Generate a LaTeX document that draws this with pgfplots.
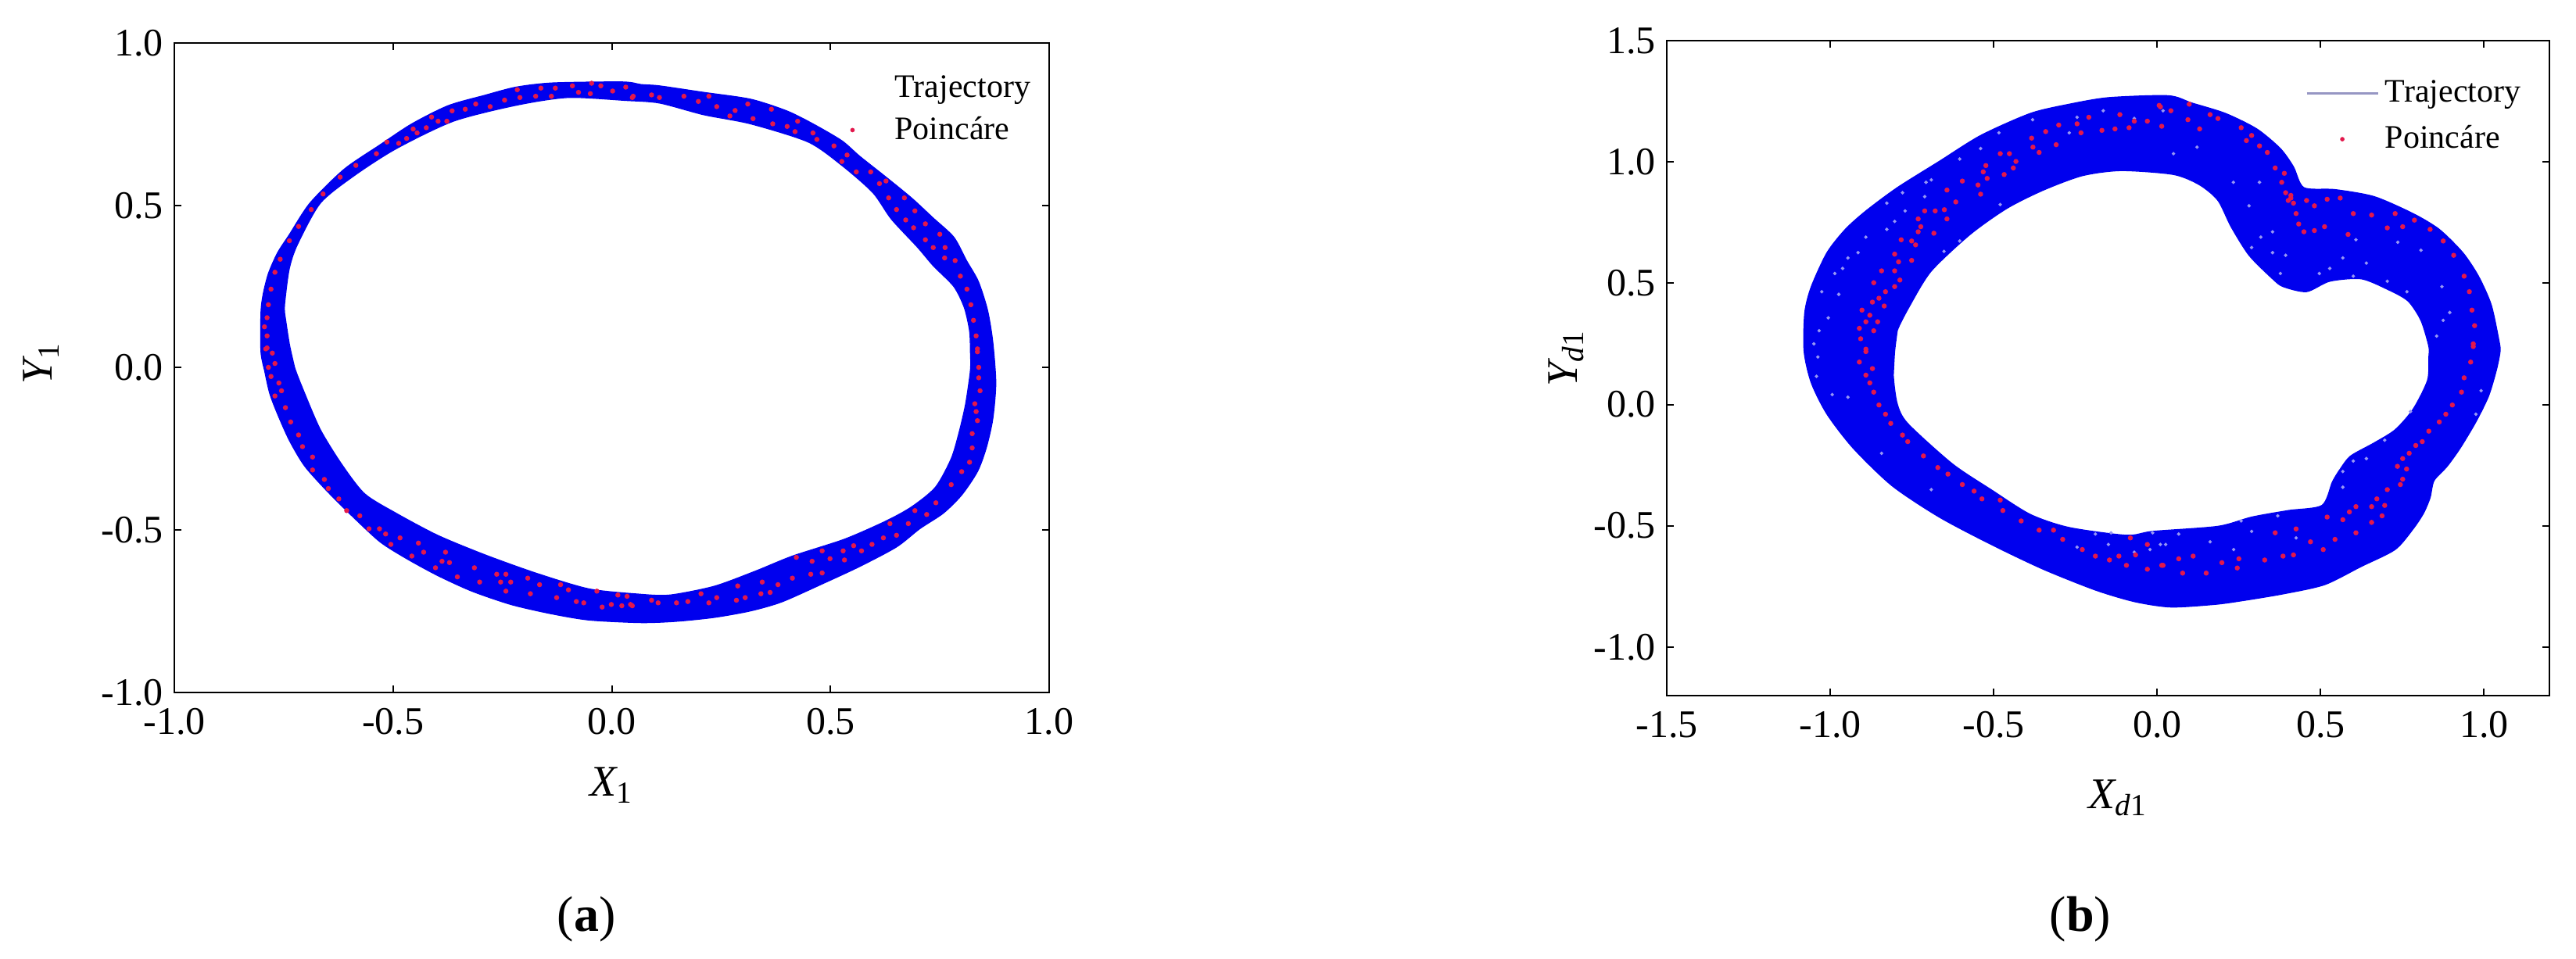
\documentclass[border=0pt]{standalone}
\usepackage{pgfplots}
\pgfplotsset{compat=1.18}
\usepackage{fontspec}
\setmainfont{Liberation Serif}
\definecolor{bandblue}{RGB}{0,0,238}
\definecolor{ptred}{RGB}{226,24,76}
\definecolor{gapblue}{RGB}{150,150,245}
\definecolor{lineblue}{RGB}{150,150,195}
\pgfplotsset{
  panel/.style={
    scale only axis, axis line style={line width=0.5pt}, tick style={black,line width=0.5pt},
    major tick length=2.2pt, tick align=inside, xtick pos=both, ytick pos=both,
    minor tick num=0, tick label style={font=\fontsize{12.5}{13}\selectfont},
    /pgf/number format/assume math mode=true,
    /pgf/number format/fixed, /pgf/number format/fixed zerofill, /pgf/number format/precision=1,
    label style={font=\fontsize{14}{15}\selectfont},
    xticklabel style={yshift=-1.5pt},
    legend cell align=left,
    legend image code/.code={\draw[mark repeat=2,mark phase=2,##1] plot coordinates {(0pt,0pt)(11.4pt,0pt)(22.75pt,0pt)};},
    legend style={draw=none, fill=none, inner sep=0pt, anchor=north west,
      font=\fontsize{10.5}{11}\selectfont, row sep=0.5pt},
  },
  band/.style={forget plot, fill=bandblue, draw=bandblue, line width=0.3pt, smooth, tension=0.45, line join=round},
  hole/.style={forget plot, fill=white, draw=bandblue, line width=0.3pt, smooth, tension=0.45, line join=round},
  pts/.style={forget plot, only marks, mark=*, mark size=0.6pt, color=ptred},
  gaps/.style={forget plot, only marks, mark=*, mark size=0.32pt, color=gapblue},
}
\begin{document}
\begin{tikzpicture}
\path[use as bounding box] (0,0) rectangle (823.75pt,306.75pt);
\begin{axis}[panel, at={(55.75pt,85.25pt)}, anchor=south west, width=279.75pt, height=207.75pt,
  xmin=-1, xmax=1, ymin=-1, ymax=1,
  xtick={-1,-0.5,0,0.5,1}, ytick={-1,-0.5,0,0.5,1},
  xlabel={{\itshape X}\textsubscript{1}}, ylabel={{\itshape Y}\textsubscript{1}},
  xlabel style={at={(axis description cs:0.5,-0.143)},anchor=center},
  ylabel style={at={(axis description cs:-0.152,0.507)},anchor=center},
  legend style={at={(axis description cs:0.733,0.96)}}]
\addlegendimage{color=white}
\addlegendentry{Trajectory}
\addlegendimage{only marks, mark=*, mark size=0.5pt, color=ptred}
\addlegendentry{Poincáre}
\addplot[band] coordinates {
(-0.794,-0.007)(-0.802,0.049)(-0.802,0.170)(-0.797,0.226)(-0.785,0.290)(-0.764,0.354)(-0.737,0.410)(-0.690,0.507)(-0.612,0.611)(-0.529,0.687)(-0.457,0.751)(-0.374,0.807)(-0.290,0.839)(-0.219,0.864)(-0.135,0.877)(0.025,0.880)(0.067,0.872)
(0.109,0.868)(0.210,0.848)(0.317,0.827)(0.400,0.791)(0.460,0.751)(0.526,0.699)(0.567,0.651)(0.627,0.587)(0.686,0.522)(0.734,0.462)(0.782,0.402)(0.811,0.330)(0.838,0.266)(0.859,0.178)(0.871,0.081)
(0.878,-0.047)(0.871,-0.159)(0.856,-0.248)(0.836,-0.320)(0.800,-0.392)(0.758,-0.448)(0.704,-0.496)(0.651,-0.552)(0.567,-0.612)(0.484,-0.664)(0.389,-0.721)(0.317,-0.749)(0.234,-0.769)(0.147,-0.781)
(0.067,-0.785)(-0.052,-0.777)(-0.141,-0.757)(-0.231,-0.729)(-0.320,-0.688)(-0.398,-0.640)(-0.469,-0.588)(-0.529,-0.537)(-0.588,-0.464)(-0.648,-0.384)(-0.702,-0.303)(-0.737,-0.224)(-0.764,-0.143)(-0.782,-0.079)(-0.794,-0.007)(-0.802,0.049)(-0.802,0.170)
};
\addplot[hole] coordinates {
(-0.725,0.001)(-0.737,0.073)(-0.748,0.170)(-0.746,0.219)(-0.737,0.306)(-0.719,0.378)(-0.666,0.507)(-0.587,0.593)(-0.492,0.675)(-0.362,0.759)(-0.219,0.808)(-0.100,0.832)(0.031,0.823)
(0.109,0.815)(0.210,0.779)(0.317,0.751)(0.449,0.695)(0.526,0.623)(0.597,0.539)(0.639,0.458)(0.699,0.371)(0.735,0.314)(0.782,0.250)(0.806,0.185)(0.818,0.113)(0.820,0.049)
(0.820,-0.007)(0.809,-0.111)(0.794,-0.199)(0.776,-0.280)(0.740,-0.368)(0.686,-0.428)(0.627,-0.472)(0.532,-0.528)(0.413,-0.580)(0.329,-0.626)(0.234,-0.673)(0.132,-0.700)(0.061,-0.697)
(-0.052,-0.681)(-0.172,-0.633)(-0.290,-0.576)(-0.398,-0.516)(-0.493,-0.448)(-0.565,-0.388)(-0.618,-0.296)(-0.666,-0.191)(-0.702,-0.079)(-0.725,0.001)(-0.737,0.073)(-0.748,0.170)
};
\addplot[pts] coordinates {
(-0.791,0.058)(-0.788,0.098)(-0.794,0.126)(-0.788,0.154)(-0.785,0.194)(-0.779,0.242)(-0.770,0.294)(-0.758,0.334)(-0.737,0.391)(-0.716,0.435)(-0.687,0.487)(-0.660,0.535)(-0.621,0.587)(-0.585,0.623)(-0.538,0.659)(-0.514,0.695)(-0.487,0.691)(-0.469,0.706)(-0.454,0.735)(-0.445,0.723)(-0.424,0.739)(-0.397,0.759)(-0.412,0.772)(-0.377,0.759)(-0.365,0.791)(-0.335,0.796)(-0.311,0.812)(-0.278,0.804)(-0.245,0.824)(-0.210,0.832)(-0.216,0.856)(-0.174,0.836)(-0.162,0.861)(-0.138,0.836)(-0.129,0.861)(-0.090,0.868)(-0.076,0.848)(-0.049,0.844)(-0.025,0.868)(-0.046,0.876)(0.002,0.852)(0.032,0.864)(0.047,0.832)
(0.049,0.836)(0.109,0.832)(0.091,0.840)(0.165,0.836)(0.222,0.836)(0.198,0.820)(0.240,0.804)(0.270,0.775)(0.311,0.812)(0.323,0.767)(0.282,0.792)(0.365,0.796)(0.368,0.751)(0.401,0.743)(0.425,0.759)(0.419,0.727)(0.460,0.723)(0.469,0.703)(0.508,0.683)(0.538,0.655)(0.526,0.635)(0.559,0.603)(0.592,0.603)(0.612,0.567)(0.627,0.575)(0.633,0.523)(0.669,0.523)(0.651,0.487)(0.693,0.483)(0.672,0.455)(0.690,0.431)(0.717,0.443)(0.750,0.411)(0.717,0.394)(0.762,0.370)(0.735,0.370)(0.785,0.330)(0.761,0.338)(0.797,0.282)(0.812,0.242)(0.821,0.194)(0.827,0.146)(0.833,0.098)(0.836,0.058)
(-0.788,0.061)(-0.776,0.045)(-0.770,0.013)(-0.785,0.001)(-0.779,-0.027)(-0.761,-0.047)(-0.755,-0.071)(-0.770,-0.087)(-0.746,-0.123)(-0.734,-0.167)(-0.716,-0.207)(-0.707,-0.243)(-0.684,-0.275)(-0.684,-0.315)(-0.657,-0.344)(-0.648,-0.372)(-0.624,-0.404)(-0.606,-0.440)(-0.576,-0.456)(-0.555,-0.496)(-0.531,-0.496)(-0.517,-0.512)(-0.484,-0.524)(-0.505,-0.544)(-0.442,-0.540)(-0.430,-0.568)(-0.457,-0.580)(-0.380,-0.568)(-0.388,-0.596)(-0.371,-0.600)(-0.403,-0.616)(-0.353,-0.644)(-0.314,-0.616)(-0.302,-0.660)(-0.263,-0.636)(-0.242,-0.636)(-0.254,-0.660)(-0.231,-0.660)(-0.242,-0.688)(-0.192,-0.648)(-0.165,-0.668)(-0.186,-0.696)(-0.117,-0.668)(-0.099,-0.684)(-0.126,-0.708)(-0.081,-0.720)(-0.064,-0.724)(-0.034,-0.688)(-0.022,-0.737)(-0.001,-0.729)(0.014,-0.700)(0.035,-0.704)(0.023,-0.733)(0.047,-0.733)
(0.043,-0.729)(0.091,-0.716)(0.106,-0.724)(0.148,-0.724)(0.174,-0.720)(0.204,-0.696)(0.222,-0.724)(0.240,-0.708)(0.288,-0.672)(0.285,-0.716)(0.305,-0.708)(0.344,-0.660)(0.341,-0.696)(0.362,-0.692)(0.380,-0.668)(0.413,-0.648)(0.455,-0.636)(0.481,-0.632)(0.422,-0.584)(0.458,-0.596)(0.481,-0.564)(0.499,-0.588)(0.532,-0.592)(0.529,-0.564)(0.553,-0.548)(0.571,-0.564)(0.595,-0.544)(0.621,-0.524)(0.651,-0.516)(0.636,-0.480)(0.678,-0.480)(0.693,-0.440)(0.720,-0.452)(0.741,-0.416)(0.776,-0.360)(0.800,-0.320)(0.818,-0.291)(0.824,-0.247)(0.824,-0.203)(0.836,-0.163)(0.833,-0.135)(0.830,-0.111)(0.842,-0.071)(0.839,-0.031)(0.839,0.001)(0.836,0.049)
};
\end{axis}
\begin{axis}[panel, at={(533pt,84.25pt)}, anchor=south west, width=282.25pt, height=209.5pt,
  xmin=-1.5, xmax=1.2, ymin=-1.2, ymax=1.5,
  xtick={-1.5,-1,-0.5,0,0.5,1}, ytick={-1,-0.5,0,0.5,1,1.5},
  xlabel={{\itshape X}\textsubscript{{\itshape d}1}}, ylabel={{\itshape Y}\textsubscript{{\itshape d}1}},
  xlabel style={at={(axis description cs:0.511,-0.156)},anchor=center},
  ylabel style={at={(axis description cs:-0.114,0.515)},anchor=center},
  legend style={at={(axis description cs:0.723,0.95)}, row sep=2pt}]
\addlegendimage{color=lineblue, line width=0.7pt}
\addlegendentry{Trajectory}
\addlegendimage{only marks, mark=*, mark size=0.5pt, color=ptred}
\addlegendentry{Poincáre}
\addplot[band] coordinates {
(-1.058,0.089)(-1.080,0.218)(-1.078,0.379)(-1.058,0.486)(-1.010,0.626)(-0.954,0.722)(-0.891,0.798)(-0.795,0.894)(-0.667,1.002)(-0.540,1.109)(-0.388,1.200)(-0.269,1.238)(-0.149,1.265)(0.034,1.273)
(0.106,1.243)(0.209,1.200)(0.305,1.136)(0.377,1.055)(0.417,0.980)(0.449,0.894)(0.544,0.886)(0.664,0.857)(0.783,0.787)(0.863,0.722)(0.935,0.626)(0.983,0.529)(1.022,0.411)(1.046,0.261)
(1.049,0.218)(1.038,0.143)(1.014,0.035)(0.975,-0.072)(0.927,-0.180)(0.887,-0.255)(0.847,-0.314)(0.835,-0.384)(0.815,-0.448)(0.783,-0.513)(0.728,-0.598)(0.624,-0.668)(0.512,-0.743)(0.385,-0.781)(0.265,-0.808)(0.178,-0.824)(0.042,-0.835)(-0.069,-0.813)
(-0.189,-0.765)(-0.349,-0.679)(-0.508,-0.577)(-0.667,-0.464)(-0.811,-0.335)(-0.930,-0.180)(-1.010,-0.040)(-1.058,0.089)(-1.080,0.218)(-1.078,0.379)
};
\addplot[hole] coordinates {
(-0.807,0.121)(-0.803,0.218)(-0.795,0.304)(-0.755,0.411)(-0.691,0.550)(-0.572,0.701)(-0.460,0.808)(-0.349,0.883)(-0.229,0.943)(-0.110,0.964)(0.050,0.948)
(0.130,0.905)(0.186,0.841)(0.226,0.733)(0.281,0.615)(0.353,0.518)(0.385,0.486)(0.457,0.465)(0.528,0.508)(0.624,0.518)(0.704,0.475)(0.767,0.427)(0.807,0.346)(0.831,0.239)
(0.831,0.196)(0.827,0.100)(0.783,-0.019)(0.728,-0.104)(0.664,-0.158)(0.592,-0.212)(0.560,-0.266)(0.536,-0.319)(0.504,-0.416)(0.401,-0.437)(0.289,-0.464)(0.186,-0.502)(-0.014,-0.523)(-0.093,-0.539)
(-0.269,-0.507)(-0.388,-0.453)(-0.508,-0.351)(-0.627,-0.244)(-0.763,-0.078)(-0.795,0.003)(-0.807,0.121)(-0.803,0.218)(-0.795,0.304)
};
\addplot[gaps] coordinates {
(-0.827,0.830)(-0.779,0.873)(-0.707,0.916)(-0.691,0.926)(-0.711,0.857)(-0.771,0.798)(-0.803,0.755)(-0.827,0.722)(-0.604,1.012)(-0.540,1.055)(-0.946,0.604)(-0.962,0.561)(-0.915,0.626)(-0.986,0.540)(-1.034,0.304)(-1.050,0.250)(-1.026,0.465)(-0.974,0.454)(-1.006,0.357)(-0.381,1.174)(-0.245,1.184)(-0.165,1.211)(-0.070,1.179)(0.018,1.211)(-0.484,1.120)(-0.269,1.120)(-0.480,0.824)(-0.891,0.690)(-0.604,0.674)(-0.652,0.631)
(0.050,1.034)(0.122,1.061)(0.233,0.916)(0.313,0.916)(0.281,0.819)(0.317,0.690)(0.353,0.712)(0.289,0.647)(0.377,0.540)(0.393,0.615)(0.496,0.540)(0.528,0.561)(0.568,0.604)(0.600,0.529)(0.640,0.583)(0.704,0.508)(0.764,0.465)(0.871,0.486)(0.895,0.379)(0.875,0.347)(0.855,0.282)(0.736,0.669)(0.807,0.636)(0.353,0.626)(0.608,0.679)
(-1.038,0.196)(-0.994,0.041)(-0.946,0.030)(-0.843,-0.201)(-0.691,-0.351)(-0.189,-0.534)(-0.141,-0.529)(-0.245,-0.588)(-0.149,-0.577)(-0.014,-0.529)(0.026,-0.577)(-0.070,-0.609)(-0.022,-0.598)(-1.042,0.116)
(0.010,-0.577)(0.066,-0.534)(0.162,-0.566)(0.234,-0.598)(0.289,-0.523)(0.369,-0.459)(0.568,-0.276)(0.568,-0.341)(0.600,-0.233)(0.640,-0.223)(0.696,-0.147)(0.775,-0.029)(0.991,0.057)(0.975,-0.040)(0.257,-0.480)(0.425,-0.550)
};
\addplot[pts] coordinates {
(-0.891,0.228)(-0.907,0.271)(-0.911,0.314)(-0.867,0.304)(-0.891,0.341)(-0.855,0.341)(-0.879,0.368)(-0.903,0.389)(-0.835,0.406)(-0.871,0.422)(-0.851,0.438)(-0.831,0.465)(-0.803,0.486)(-0.867,0.502)(-0.787,0.513)(-0.843,0.551)(-0.803,0.551)(-0.751,0.594)(-0.791,0.588)(-0.803,0.620)(-0.739,0.658)(-0.783,0.679)(-0.751,0.674)(-0.731,0.712)(-0.683,0.706)(-0.723,0.733)(-0.643,0.765)(-0.731,0.765)(-0.711,0.798)(-0.651,0.803)(-0.679,0.798)(-0.616,0.835)(-0.643,0.884)(-0.596,0.921)(-0.540,0.867)(-0.548,0.905)(-0.520,0.932)(-0.532,0.959)(-0.524,0.985)(-0.468,0.948)(-0.440,0.975)(-0.432,1.002)(-0.480,1.034)(-0.452,1.034)(-0.361,1.039)(-0.380,1.061)(-0.384,1.098)(-0.309,1.071)(-0.341,1.125)(-0.301,1.152)(-0.233,1.120)(-0.245,1.157)(-0.209,1.184)(-0.169,1.130)(-0.129,1.136)(-0.114,1.195)(-0.086,1.141)(-0.070,1.168)(-0.030,1.168)(0.014,1.147)(0.006,1.233)
(0.010,1.227)(0.042,1.211)(0.094,1.174)(0.130,1.136)(0.098,1.238)(0.162,1.195)(0.186,1.179)(0.257,1.141)(0.289,1.109)(0.273,1.088)(0.313,1.066)(0.337,1.039)(0.361,0.975)(0.389,0.953)(0.381,0.916)(0.409,0.862)(0.401,0.841)(0.417,0.830)(0.409,0.851)(0.393,0.873)(0.425,0.787)(0.433,0.744)(0.449,0.712)(0.481,0.717)(0.457,0.841)(0.481,0.819)(0.520,0.846)(0.560,0.851)(0.512,0.733)(0.584,0.701)(0.600,0.787)(0.656,0.781)(0.704,0.728)(0.728,0.787)(0.751,0.733)(0.787,0.760)(0.835,0.722)(0.875,0.674)(0.907,0.615)(0.939,0.529)(0.955,0.465)(0.963,0.389)(0.971,0.325)(0.967,0.250)
(-0.891,0.218)(-0.911,0.175)(-0.871,0.148)(-0.891,0.121)(-0.879,0.089)(-0.867,0.051)(-0.851,-0.002)(-0.831,-0.040)(-0.815,-0.078)(-0.779,-0.126)(-0.763,-0.153)(-0.715,-0.212)(-0.671,-0.260)(-0.640,-0.287)(-0.596,-0.330)(-0.560,-0.357)(-0.536,-0.389)(-0.480,-0.394)(-0.472,-0.437)(-0.416,-0.480)(-0.361,-0.518)(-0.317,-0.518)(-0.289,-0.556)(-0.229,-0.598)(-0.189,-0.625)(-0.146,-0.641)(-0.117,-0.625)(-0.066,-0.620)(-0.094,-0.663)(-0.030,-0.679)(0.018,-0.663)(-0.030,-0.577)(-0.082,-0.550)
(0.014,-0.663)(0.078,-0.695)(0.150,-0.695)(0.110,-0.625)(0.066,-0.636)(0.198,-0.652)(0.250,-0.636)(0.245,-0.674)(0.329,-0.641)(0.385,-0.625)(0.417,-0.620)(0.361,-0.529)(0.425,-0.513)(0.469,-0.566)(0.508,-0.598)(0.544,-0.556)(0.608,-0.529)(0.520,-0.464)(0.568,-0.475)(0.588,-0.443)(0.656,-0.486)(0.688,-0.459)(0.608,-0.421)(0.656,-0.421)(0.696,-0.416)(0.672,-0.389)(0.704,-0.351)(0.744,-0.330)(0.751,-0.308)(0.735,-0.255)(0.763,-0.266)(0.751,-0.223)(0.771,-0.201)(0.791,-0.169)(0.811,-0.153)(0.831,-0.110)(0.863,-0.072)(0.883,-0.040)(0.903,-0.002)(0.931,0.051)(0.939,0.110)(0.959,0.175)(0.967,0.239)
};
\end{axis}
\node[font=\fontsize{16}{17}\selectfont] at (187.5pt,12.75pt) {(\textbf{a})};
\node[font=\fontsize{16}{17}\selectfont] at (665.25pt,12.75pt) {(\textbf{b})};
\end{tikzpicture}
\end{document}
